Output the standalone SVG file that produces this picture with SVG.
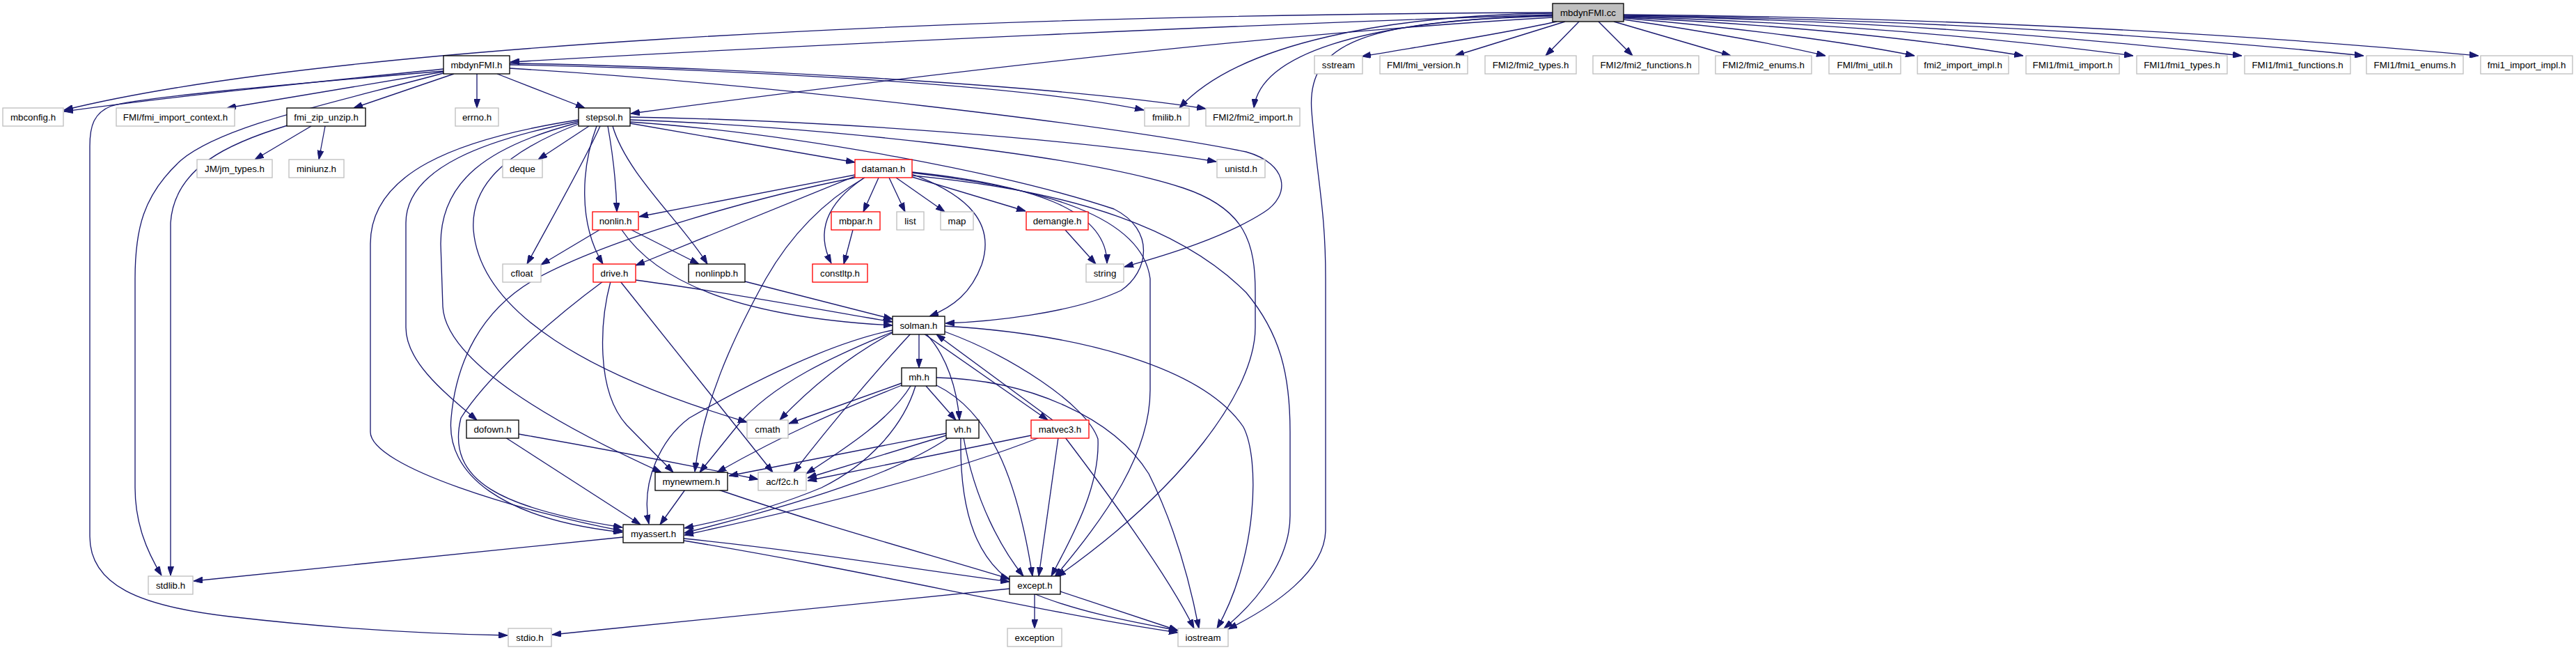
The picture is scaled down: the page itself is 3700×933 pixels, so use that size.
<svg xmlns="http://www.w3.org/2000/svg" width="3700" height="933" viewBox="0 0 3700 933">
<style>
.n rect{fill:#ffffff;stroke-width:1.33}
.g rect{stroke:#bfbfbf}
.b rect{stroke:#000000}
.r rect{stroke:#ff0000}
.root rect{fill:#bfbfbf;stroke:#000000}
text{font-family:"Liberation Sans",Arial,Helvetica,sans-serif;font-size:13.33px;fill:#000000;text-anchor:middle}
#edges path{fill:none;stroke:#191970;stroke-width:1.33;marker-end:url(#ah)}
</style>
<defs>
<marker id="ah" viewBox="0 0 13 9" refX="13" refY="4.5" markerWidth="13" markerHeight="9" markerUnits="userSpaceOnUse" orient="auto">
<path d="M0,0 L13,4.5 L0,9 z" fill="#191970" stroke="#191970" stroke-width="1"/>
</marker>
</defs>
<rect width="3700" height="933" fill="#ffffff"/>
<g id="edges">
<path d="M2230,21 C1800,35 1200,62 733,89"/>
<path d="M2230,18 C1300,22 450,70 92,158"/>
<path d="M2230,25 C1800,50 1300,110 906,163"/>
<path d="M2230,19 C2000,22 1780,60 1694,155"/>
<path d="M2230,22 C1950,30 1810,80 1801,155"/>
<path d="M2230,23 C1960,30 1876,60 1884,160 C1892,260 1904,300 1904,400 L1904,760 C1904,820 1830,870 1764,903"/>
<path d="M2236,31 C2150,50 2050,65 1956,81"/>
<path d="M2248,31 L2090,80"/>
<path d="M2268,31 L2220,80"/>
<path d="M2296,31 L2345,80"/>
<path d="M2318,31 L2486,80"/>
<path d="M2332,28 C2450,45 2560,65 2622,80"/>
<path d="M2332,26 C2500,40 2650,60 2750,80"/>
<path d="M2332,25 C2550,35 2750,55 2906,80"/>
<path d="M2332,24 C2600,32 2850,52 3064,80"/>
<path d="M2332,23 C2650,28 2950,50 3220,80"/>
<path d="M2332,22 C2700,27 3050,45 3395,80"/>
<path d="M2332,21 C2750,25 3150,42 3560,80"/>
<path d="M637,99 C450,118 250,138 92,160"/>
<path d="M637,102 C400,122 200,140 160,152 C135,162 129,180 129,210 L129,770 C129,840 200,870 330,885 C460,900 600,910 729,912"/>
<path d="M637,105 C470,150 320,180 260,230 C205,280 194,330 194,400 L194,700 C194,750 210,790 232,826"/>
<path d="M637,103 L326,155"/>
<path d="M652,106 L508,155"/>
<path d="M685,106 L685,155"/>
<path d="M714,106 L840,155"/>
<path d="M732,93 C1000,98 1450,118 1643,158"/>
<path d="M732,91 C1000,95 1500,120 1732,156"/>
<path d="M732,98 C1100,120 1600,180 1790,218 C1850,235 1855,280 1815,305 C1760,340 1680,365 1615,383"/>
<path d="M447,181 L366,229"/>
<path d="M467,181 L458,229"/>
<path d="M413,180 C330,205 250,240 245,320 L245,826"/>
<path d="M846,181 L773,229"/>
<path d="M873,181 C880,220 885,260 886,304"/>
<path d="M862,181 C840,230 800,300 757,379"/>
<path d="M857,181 C835,240 830,320 866,379"/>
<path d="M880,181 C900,250 980,320 1016,379"/>
<path d="M831,172 C650,200 532,250 532,350 L532,620 C532,670 750,735 894,762"/>
<path d="M831,174 C700,200 583,240 583,320 L583,470 C583,520 640,565 685,603"/>
<path d="M831,176 C700,210 633,260 633,350 L636,440 C640,520 800,610 950,678"/>
<path d="M831,178 C720,220 676,270 680,330 C690,450 850,540 1073,606"/>
<path d="M905,168 C1200,173 1550,200 1747,232"/>
<path d="M905,177 L1228,233"/>
<path d="M905,175 C1150,192 1450,250 1600,300 C1660,330 1650,390 1610,417 C1540,450 1420,462 1358,464"/>
<path d="M905,172 C1150,180 1550,220 1700,270 C1790,300 1803,350 1803,420 L1803,470 C1803,560 1700,700 1518,828"/>
<path d="M1228,251 L918,311"/>
<path d="M1228,253 L913,381"/>
<path d="M1228,255 C1100,280 880,340 770,400 C690,445 655,520 648,600 C640,680 720,745 894,764"/>
<path d="M1242,255 C1190,285 1140,330 1100,400 C1050,490 1010,580 998,677"/>
<path d="M1240,256 C1190,290 1170,330 1194,378"/>
<path d="M1262,255 L1240,304"/>
<path d="M1277,255 L1300,304"/>
<path d="M1287,255 L1357,304"/>
<path d="M1310,254 L1473,303"/>
<path d="M1310,250 C1390,280 1430,320 1410,380 C1395,420 1370,440 1335,454"/>
<path d="M1310,247 C1480,265 1590,300 1590,378"/>
<path d="M1310,248 C1500,270 1640,310 1652,400 L1652,560 C1652,650 1590,740 1515,828"/>
<path d="M1310,252 C1550,275 1700,330 1790,420 C1840,480 1853,540 1853,620 L1853,740 C1853,800 1810,860 1758,902"/>
<path d="M861,330 L777,380"/>
<path d="M907,330 L1004,379"/>
<path d="M893,330 C940,400 1050,455 1282,467"/>
<path d="M1070,404 L1282,458"/>
<path d="M913,402 C1050,420 1180,445 1282,462"/>
<path d="M866,404 C790,460 700,540 662,600 C640,690 720,730 894,757"/>
<path d="M877,404 C862,460 855,560 900,610 L967,678"/>
<path d="M891,404 L1110,678"/>
<path d="M1225,330 L1212,379"/>
<path d="M1530,330 L1574,379"/>
<path d="M1320,479 L1320,528"/>
<path d="M1330,479 C1360,510 1375,560 1378,603"/>
<path d="M1327,479 L1505,603"/>
<path d="M1512,603 L1345,480"/>
<path d="M1283,477 C1220,510 1160,560 1120,603"/>
<path d="M1283,476 C1200,510 1110,550 1060,610 L1005,678"/>
<path d="M1282,474 C1180,495 1060,560 990,600 C950,630 920,690 932,752"/>
<path d="M1308,479 C1270,520 1200,600 1140,678"/>
<path d="M1357,476 C1450,510 1560,580 1577,630 C1580,700 1540,770 1510,827"/>
<path d="M1357,468 C1560,480 1730,530 1786,613 C1810,660 1806,800 1748,902"/>
<path d="M1330,554 L1373,603"/>
<path d="M1295,550 L1133,608"/>
<path d="M1295,553 C1230,580 1150,610 1030,678"/>
<path d="M1308,554 C1280,600 1220,640 1158,680"/>
<path d="M1315,554 C1297,613 1247,667 1180,700 C1120,725 1050,745 983,758"/>
<path d="M1345,553 C1420,590 1460,680 1483,827"/>
<path d="M1345,542 C1480,545 1600,600 1650,680 C1690,760 1710,840 1722,902"/>
<path d="M1359,622 L1047,683"/>
<path d="M1359,625 L1160,686"/>
<path d="M1363,628 C1300,670 1200,710 983,765"/>
<path d="M1384,628 C1400,720 1440,790 1470,827"/>
<path d="M1380,628 C1378,750 1410,820 1480,850 C1550,880 1640,895 1692,905"/>
<path d="M1481,625 L1160,690"/>
<path d="M1493,628 C1400,665 1250,710 983,768"/>
<path d="M1520,628 L1492,827"/>
<path d="M1530,628 C1600,720 1680,830 1715,902"/>
<path d="M726,628 L920,753"/>
<path d="M745,623 C900,650 1000,670 1089,688"/>
<path d="M984,703 L948,753"/>
<path d="M1032,703 C1200,760 1350,800 1450,831"/>
<path d="M895,771 L278,834"/>
<path d="M982,773 C1150,790 1300,815 1450,835"/>
<path d="M982,776 C1250,820 1500,880 1692,908"/>
<path d="M1450,845 C1200,870 1000,890 793,911"/>
<path d="M1486,852 L1486,902"/>
<path d="M1523,849 L1692,905"/>
</g>
<g id="n_mbdynFMI_cc" class="n root"><rect x="2230" y="5" width="102" height="26"/><text x="2281" y="22.5">mbdynFMI.cc</text></g>
<g id="n_mbdynFMI_h" class="n b"><rect x="637" y="80" width="95" height="26"/><text x="684.5" y="97.5">mbdynFMI.h</text></g>
<g id="n_sstream" class="n g"><rect x="1888" y="80" width="69" height="26"/><text x="1922.5" y="97.5">sstream</text></g>
<g id="n_fmi_version" class="n g"><rect x="1982" y="80" width="126" height="26"/><text x="2045" y="97.5">FMI/fmi_version.h</text></g>
<g id="n_fmi2_types" class="n g"><rect x="2133" y="80" width="131" height="26"/><text x="2198.5" y="97.5">FMI2/fmi2_types.h</text></g>
<g id="n_fmi2_functions" class="n g"><rect x="2288" y="80" width="152" height="26"/><text x="2364" y="97.5">FMI2/fmi2_functions.h</text></g>
<g id="n_fmi2_enums" class="n g"><rect x="2464" y="80" width="138" height="26"/><text x="2533" y="97.5">FMI2/fmi2_enums.h</text></g>
<g id="n_fmi_util" class="n g"><rect x="2627" y="80" width="103" height="26"/><text x="2678.5" y="97.5">FMI/fmi_util.h</text></g>
<g id="n_fmi2_import_impl" class="n g"><rect x="2754" y="80" width="131" height="26"/><text x="2819.5" y="97.5">fmi2_import_impl.h</text></g>
<g id="n_fmi1_import" class="n g"><rect x="2910" y="80" width="134" height="26"/><text x="2977" y="97.5">FMI1/fmi1_import.h</text></g>
<g id="n_fmi1_types" class="n g"><rect x="3069" y="80" width="130" height="26"/><text x="3134" y="97.5">FMI1/fmi1_types.h</text></g>
<g id="n_fmi1_functions" class="n g"><rect x="3224" y="80" width="152" height="26"/><text x="3300" y="97.5">FMI1/fmi1_functions.h</text></g>
<g id="n_fmi1_enums" class="n g"><rect x="3399" y="80" width="139" height="26"/><text x="3468.5" y="97.5">FMI1/fmi1_enums.h</text></g>
<g id="n_fmi1_import_impl" class="n g"><rect x="3563" y="80" width="132" height="26"/><text x="3629" y="97.5">fmi1_import_impl.h</text></g>
<g id="n_mbconfig" class="n g"><rect x="4" y="155" width="87" height="26"/><text x="47.5" y="172.5">mbconfig.h</text></g>
<g id="n_fmi_import_context" class="n g"><rect x="167" y="155" width="170" height="26"/><text x="252" y="172.5">FMI/fmi_import_context.h</text></g>
<g id="n_fmi_zip_unzip" class="n b"><rect x="412" y="155" width="113" height="26"/><text x="468.5" y="172.5">fmi_zip_unzip.h</text></g>
<g id="n_errno" class="n g"><rect x="654" y="155" width="62" height="26"/><text x="685" y="172.5">errno.h</text></g>
<g id="n_stepsol" class="n b"><rect x="831" y="155" width="74" height="26"/><text x="868" y="172.5">stepsol.h</text></g>
<g id="n_fmilib" class="n g"><rect x="1644" y="155" width="64" height="26"/><text x="1676" y="172.5">fmilib.h</text></g>
<g id="n_fmi2_import" class="n g"><rect x="1732" y="155" width="135" height="26"/><text x="1799.5" y="172.5">FMI2/fmi2_import.h</text></g>
<g id="n_jm_types" class="n g"><rect x="283" y="229" width="108" height="26"/><text x="337" y="246.5">JM/jm_types.h</text></g>
<g id="n_miniunz" class="n g"><rect x="415" y="229" width="79" height="26"/><text x="454.5" y="246.5">miniunz.h</text></g>
<g id="n_deque" class="n g"><rect x="722" y="229" width="57" height="26"/><text x="750.5" y="246.5">deque</text></g>
<g id="n_dataman" class="n r"><rect x="1228" y="229" width="82" height="26"/><text x="1269" y="246.5">dataman.h</text></g>
<g id="n_unistd" class="n g"><rect x="1748" y="229" width="69" height="26"/><text x="1782.5" y="246.5">unistd.h</text></g>
<g id="n_nonlin" class="n r"><rect x="851" y="304" width="66" height="26"/><text x="884" y="321.5">nonlin.h</text></g>
<g id="n_mbpar" class="n r"><rect x="1194" y="304" width="70" height="26"/><text x="1229" y="321.5">mbpar.h</text></g>
<g id="n_list" class="n g"><rect x="1288" y="304" width="39" height="26"/><text x="1307.5" y="321.5">list</text></g>
<g id="n_map" class="n g"><rect x="1351" y="304" width="47" height="26"/><text x="1374.5" y="321.5">map</text></g>
<g id="n_demangle" class="n r"><rect x="1474" y="304" width="89" height="26"/><text x="1518.5" y="321.5">demangle.h</text></g>
<g id="n_cfloat" class="n g"><rect x="722" y="379" width="55" height="26"/><text x="749.5" y="396.5">cfloat</text></g>
<g id="n_drive" class="n r"><rect x="852" y="379" width="61" height="26"/><text x="882.5" y="396.5">drive.h</text></g>
<g id="n_nonlinpb" class="n b"><rect x="989" y="379" width="81" height="26"/><text x="1029.5" y="396.5">nonlinpb.h</text></g>
<g id="n_constltp" class="n r"><rect x="1167" y="379" width="79" height="26"/><text x="1206.5" y="396.5">constltp.h</text></g>
<g id="n_string" class="n g"><rect x="1560" y="379" width="54" height="26"/><text x="1587" y="396.5">string</text></g>
<g id="n_solman" class="n b"><rect x="1282" y="454" width="75" height="26"/><text x="1319.5" y="471.5">solman.h</text></g>
<g id="n_mh" class="n b"><rect x="1295" y="528" width="50" height="26"/><text x="1320" y="545.5">mh.h</text></g>
<g id="n_dofown" class="n b"><rect x="670" y="603" width="75" height="26"/><text x="707.5" y="620.5">dofown.h</text></g>
<g id="n_cmath" class="n g"><rect x="1073" y="603" width="59" height="26"/><text x="1102.5" y="620.5">cmath</text></g>
<g id="n_vh" class="n b"><rect x="1359" y="603" width="47" height="26"/><text x="1382.5" y="620.5">vh.h</text></g>
<g id="n_matvec3" class="n r"><rect x="1481" y="603" width="83" height="26"/><text x="1522.5" y="620.5">matvec3.h</text></g>
<g id="n_mynewmem" class="n b"><rect x="941" y="678" width="104" height="26"/><text x="993" y="695.5">mynewmem.h</text></g>
<g id="n_acf2c" class="n g"><rect x="1089" y="678" width="69" height="26"/><text x="1123.5" y="695.5">ac/f2c.h</text></g>
<g id="n_myassert" class="n b"><rect x="895" y="753" width="87" height="26"/><text x="938.5" y="770.5">myassert.h</text></g>
<g id="n_stdlib" class="n g"><rect x="213" y="827" width="64" height="26"/><text x="245" y="844.5">stdlib.h</text></g>
<g id="n_except" class="n b"><rect x="1450" y="827" width="73" height="26"/><text x="1486.5" y="844.5">except.h</text></g>
<g id="n_stdio" class="n g"><rect x="730" y="902" width="62" height="26"/><text x="761" y="919.5">stdio.h</text></g>
<g id="n_exception" class="n g"><rect x="1447" y="902" width="78" height="26"/><text x="1486" y="919.5">exception</text></g>
<g id="n_iostream" class="n g"><rect x="1692" y="902" width="72" height="26"/><text x="1728" y="919.5">iostream</text></g>
</svg>
